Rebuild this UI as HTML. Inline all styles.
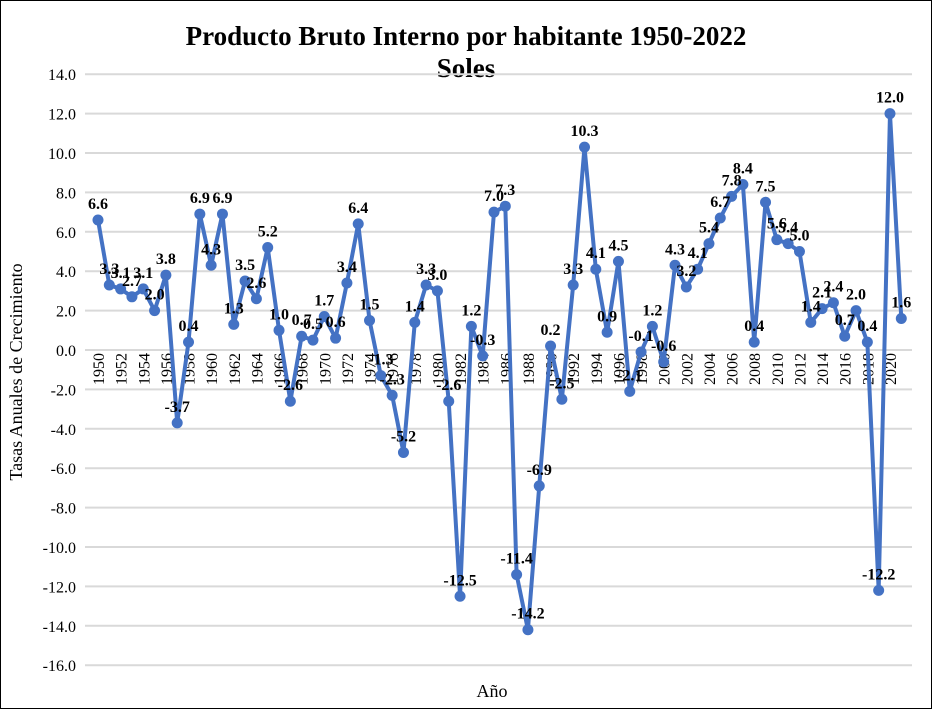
<!DOCTYPE html>
<html><head><meta charset="utf-8"><style>
body{margin:0;background:#fff}
svg{display:block;font-family:"Liberation Serif",serif}
</style></head><body>
<svg id="chart" width="932" height="709" xmlns="http://www.w3.org/2000/svg">
<rect x="0.5" y="0.5" width="931" height="708" fill="#fff" stroke="#000"/>
<text x="466" y="45" text-anchor="middle" font-size="27" font-weight="bold">Producto Bruto Interno por habitante 1950-2022</text>
<text x="466" y="77" text-anchor="middle" font-size="27" font-weight="bold">Soles</text>
<text transform="translate(22,372) rotate(-90)" text-anchor="middle" font-size="18">Tasas Anuales de Crecimiento</text>
<text x="492" y="697" text-anchor="middle" font-size="18">Año</text>
<g id="grid"></g><g id="ylabels"></g><g id="xlabels"></g><g id="series"></g><g id="vlabels"></g>
</svg>
<script>
const years=[];for(let y=1950;y<=2021;y++)years.push(y);
const values=[6.6,3.3,3.1,2.7,3.1,2.0,3.8,-3.7,0.4,6.9,4.3,6.9,1.3,3.5,2.6,5.2,1.0,-2.6,0.7,0.5,1.7,0.6,3.4,6.4,1.5,-1.3,-2.3,-5.2,1.4,3.3,3.0,-2.6,-12.5,1.2,-0.3,7.0,7.3,-11.4,-14.2,-6.9,0.2,-2.5,3.3,10.3,4.1,0.9,4.5,-2.1,-0.1,1.2,-0.6,4.3,3.2,4.1,5.4,6.7,7.8,8.4,0.4,7.5,5.6,5.4,5.0,1.4,2.1,2.4,0.7,2.0,0.4,-12.2,12.0,1.6];
const yTicks=[14,12,10,8,6,4,2,0,-2,-4,-6,-8,-10,-12,-14,-16];
const NS="http://www.w3.org/2000/svg";
const x=i=>98+i*11.314;
const y=v=>350-v*19.7;
function mk(tag,attrs,parent){const e=document.createElementNS(NS,tag);for(const k in attrs)e.setAttribute(k,attrs[k]);document.getElementById(parent).appendChild(e);return e;}
yTicks.forEach(t=>{
  const l=mk('line',{x1:85,x2:912,y1:y(t),y2:y(t),stroke:'#d9d9d9','stroke-width':2},'grid');
  
  
  const tx=mk('text',{x:76,y:y(t)+6,'text-anchor':'end','font-size':16},'ylabels');
  tx.textContent=t.toFixed(1);
  
  
});
years.forEach((yr,i)=>{
  if(i%2)return;
  const tx=mk('text',{transform:`translate(${x(i)+6},${y(0)+3}) rotate(-90)`,'text-anchor':'end','font-size':16},'xlabels');
  tx.textContent=yr;
  
  
});
const pl=mk('polyline',{points:values.map((v,i)=>x(i)+','+y(v)).join(' '),fill:'none',stroke:'#4472c4','stroke-width':4,'stroke-linejoin':'round'},'series');


values.forEach((v,i)=>{
  const c=mk('circle',{cx:x(i),cy:y(v),r:5.5,fill:'#4472c4'},'series');
  
  
  const t=mk('text',{x:x(i),y:y(v)-11,'text-anchor':'middle','font-size':16,'font-weight':'bold'},'vlabels');
  t.textContent=v.toFixed(1);
  
  
});
</script>
</body></html>
